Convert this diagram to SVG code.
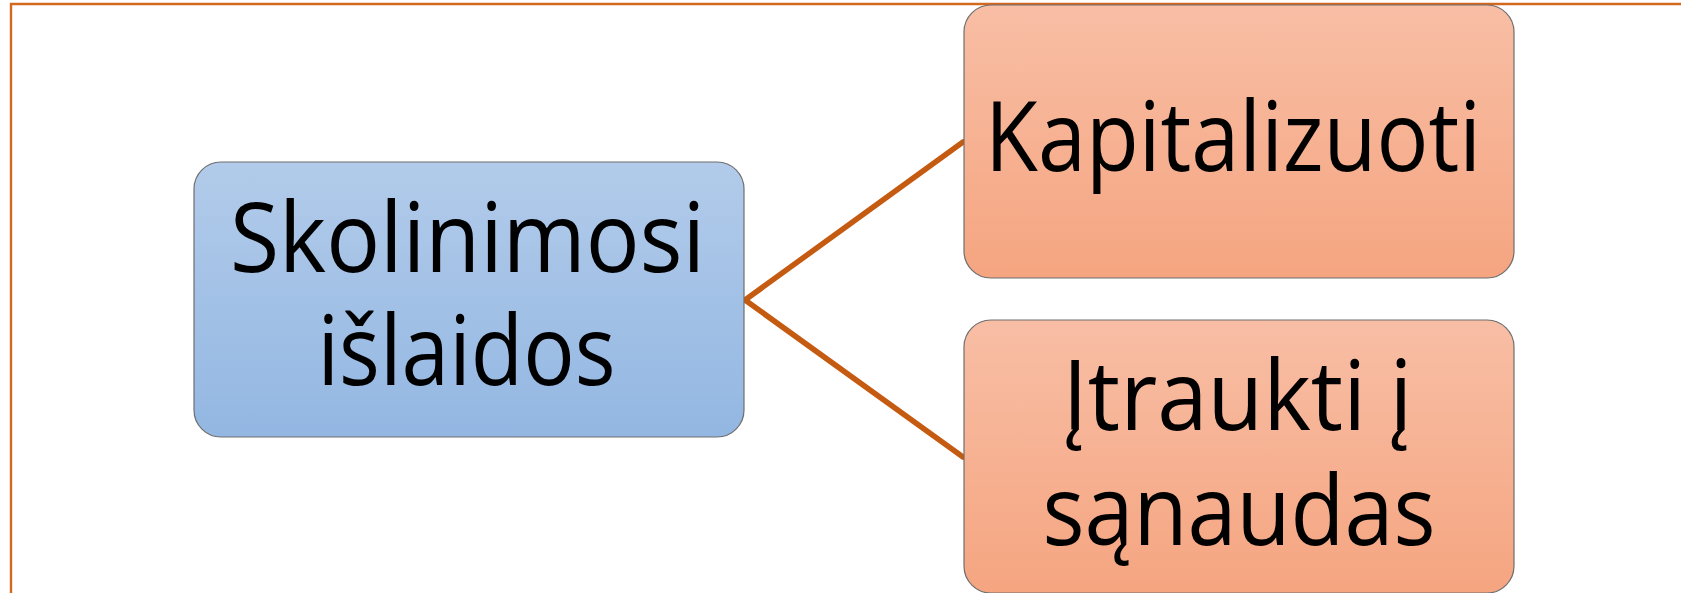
<svg xmlns="http://www.w3.org/2000/svg" width="1681" height="593" viewBox="0 0 1681 593">
  <defs>
    <linearGradient id="gBlue" x1="0" y1="0" x2="0" y2="1">
      <stop offset="0" stop-color="#B2CBEA"/>
      <stop offset="1" stop-color="#93B7E2"/>
    </linearGradient>
    <linearGradient id="gOrange" x1="0" y1="0" x2="0" y2="1">
      <stop offset="0" stop-color="#F8BEA5"/>
      <stop offset="1" stop-color="#F5A580"/>
    </linearGradient>
  </defs>
  <style>
    .box { stroke: #6E6E6E; stroke-width: 1.2; }
    .lbl { font-family: "Open Sans", "Noto Sans", "Liberation Sans", sans-serif; font-size: 97px; fill: #000; text-anchor: middle; }
    .conn { stroke: #C55A11; stroke-width: 5.5; fill: none; stroke-linecap: round; }
  </style>
  <rect x="0" y="0" width="1681" height="593" fill="#FFFFFF"/>
  <path d="M11 593 V4 H1681" fill="none" stroke="#D2691E" stroke-width="2.4"/>
  <g id="connectors">
    <line class="conn" x1="745" y1="300" x2="963" y2="142"/>
    <line class="conn" x1="745" y1="300" x2="963" y2="457"/>
  </g>
  <g id="node-skolinimosi">
    <rect class="box" x="194" y="162" width="550" height="275" rx="27" ry="27" fill="url(#gBlue)"/>
    <text class="lbl" x="467.5" y="272" textLength="475" lengthAdjust="spacingAndGlyphs">Skolinimosi</text>
    <text class="lbl" x="466.5" y="385" textLength="298" lengthAdjust="spacingAndGlyphs">išlaidos</text>
  </g>
  <g id="node-kapitalizuoti">
    <rect class="box" x="964" y="5" width="550" height="273" rx="27" ry="27" fill="url(#gOrange)"/>
    <text class="lbl" x="1233" y="171" textLength="496" lengthAdjust="spacingAndGlyphs">Kapitalizuoti</text>
  </g>
  <g id="node-itraukti">
    <rect class="box" x="964" y="320" width="550" height="273" rx="27" ry="27" fill="url(#gOrange)"/>
    <text class="lbl" x="1237.5" y="430" textLength="350" lengthAdjust="spacingAndGlyphs">Įtraukti į</text>
    <text class="lbl" x="1239" y="545" textLength="393" lengthAdjust="spacingAndGlyphs">sąnaudas</text>
  </g>
</svg>
